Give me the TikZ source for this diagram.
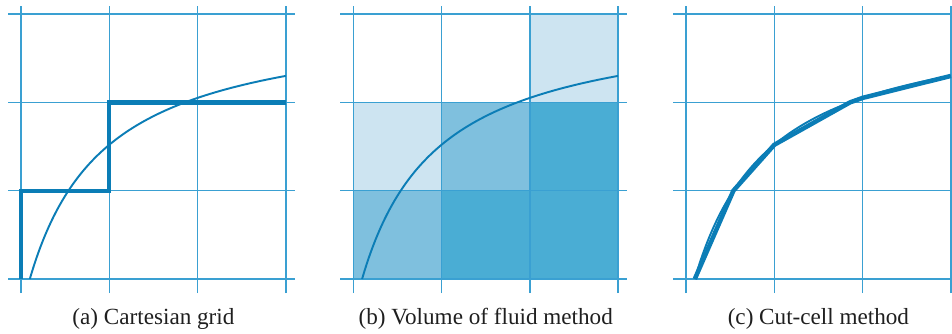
\documentclass[tikz,border=0pt]{standalone}
\usepackage{fontspec}
\setmainfont{Liberation Serif}
\definecolor{gridc}{HTML}{3AA0D2}
\definecolor{curvec}{HTML}{0B7DB6}
\definecolor{fillL}{HTML}{CDE4F1}
\definecolor{fillM}{HTML}{7FC0DE}
\definecolor{fillD}{HTML}{4AADD4}
\tikzset{
  gridline/.style={gridc, line width=0.48pt},
  curveline/.style={curvec, line width=0.62pt},
  thickline/.style={curvec, line width=1.35pt, line join=miter},
  caption/.style={anchor=base, font=\fontsize{7.46}{9}\selectfont, text=black!88, inner sep=0pt}
}
\newcommand\mygrid{%
  \foreach \i in {0,...,3} {
    \draw[gridline] (\i,-0.16) -- (\i,3.09);
    \draw[gridline] (-0.145,\i) -- (3.1,\i);
  }}
\newcommand\mycurve{%
  \draw[curveline] plot[domain=0.1:3, samples=150, smooth] (\x,{2.991-2.604/(\x+0.7708)});}
\begin{document}
\begin{tikzpicture}
\useasboundingbox (-0.238,-0.612) rectangle (10.544,3.160);
% (a)
\begin{scope}
  \mygrid
  \draw[thickline] (0,0) -- (0,1) -- (1,1) -- (1,2) -- (3,2);
  \mycurve
  \node[caption] (capa) at (1.5,-0.51) {(a) Cartesian grid};
\end{scope}
% (b)
\begin{scope}[xshift=3.763cm]
  \fill[fillM] (0,0) rectangle (1,1);
  \fill[fillD] (1,0) rectangle (3,1);
  \fill[fillL] (0,1) rectangle (1,2);
  \fill[fillM] (1,1) rectangle (2,2);
  \fill[fillD] (2,1) rectangle (3,2);
  \fill[fillL] (2,2) rectangle (3,3);
  \mygrid
  \mycurve
  \node[caption] (capb) at (1.5,-0.51) {(b) Volume of fluid method};
\end{scope}
% (c)
\begin{scope}[xshift=7.531cm]
  \mygrid
  \mycurve
  \coordinate (p0) at (0.1,0);
  \coordinate (p1) at (0.537,1);
  \coordinate (p2) at (1,1.52);
  \coordinate (p3) at (1.857,2);
  \coordinate (p4) at (2,2.051);
  \coordinate (p5) at (3,2.3);
  \draw[thickline, line width=1.45pt] (p0) -- (p1) -- (p2) -- (p3) -- (p4) -- (p5);
  \node[caption] (capc) at (1.5,-0.51) {(c) Cut-cell method};
\end{scope}
\end{tikzpicture}
\end{document}
